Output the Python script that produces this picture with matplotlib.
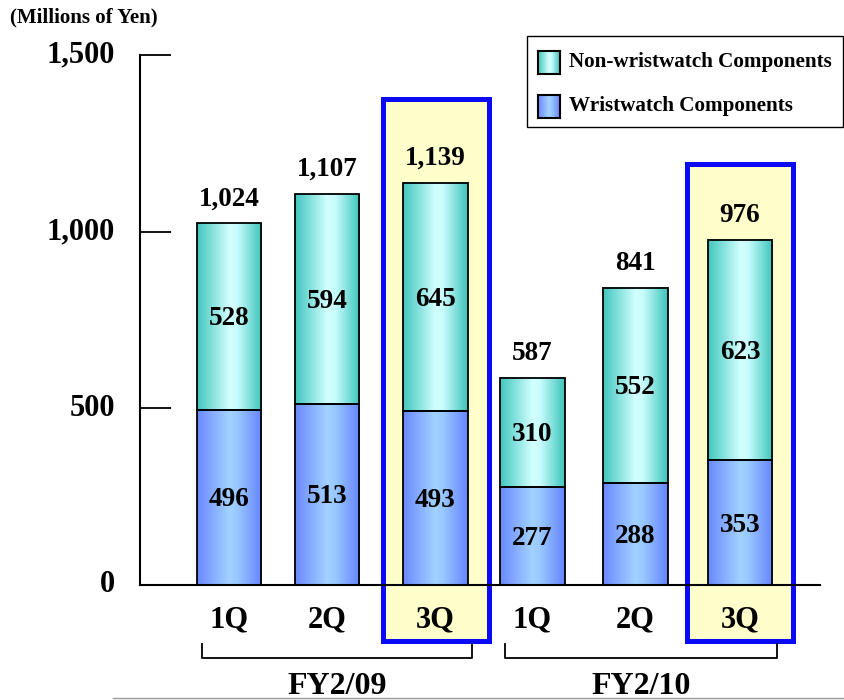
import numpy as np
import matplotlib
matplotlib.use("Agg")
import matplotlib.pyplot as plt
from matplotlib.patches import Rectangle
from matplotlib.lines import Line2D
from matplotlib.colors import LinearSegmentedColormap
from matplotlib.transforms import ScaledTranslation

# ---- data -------------------------------------------------------------
quarters = ["1Q", "2Q", "3Q", "1Q", "2Q", "3Q"]
fiscal_years = ["FY2/09", "FY2/10"]
year_groups = [[0, 1, 2], [3, 4, 5]]
wristwatch = [496, 513, 493, 277, 288, 353]
non_wristwatch = [528, 594, 645, 310, 552, 623]
totals = [1024, 1107, 1139, 587, 841, 976]
highlighted = [2, 5]
series_names = ["Non-wristwatch Components", "Wristwatch Components"]
y_ticks = [0, 500, 1000, 1500]
y_ticklabels = ["0", "500", "1,000", "1,500"]
unit_label = "(Millions of Yen)"

# ---- layout (pixel units of an 844x700 canvas) -------------------------
W, H = 844, 700
AX_L, AX_R, AX_T, AX_B = 140, 820, 55, 585
bar_centers = [229, 327, 435.5, 532.5, 635.5, 740]
bar_width = 64.5
PX = 1500 / (AX_B - AX_T)          # data units per pixel vertically

FONT = "Liberation Serif"
plt.rcParams["font.family"] = FONT
plt.rcParams["font.weight"] = "bold"

cyan_cmap = LinearSegmentedColormap.from_list(
    "cyan_bar", [(0, "#40C6BE"), (0.5, "#D2FFFF"), (0.62, "#C8FCFC"), (1, "#3CC4BC")])
blue_cmap = LinearSegmentedColormap.from_list(
    "blue_bar", [(0, "#6A88FF"), (0.5, "#A2D2FF"), (0.62, "#98C8FF"), (1, "#6684FF")])
grad = np.linspace(0, 1, 256)[None, :]

fig = plt.figure(figsize=(W / 100, H / 100), dpi=100)
ax = fig.add_axes([AX_L / W, 1 - AX_B / H, (AX_R - AX_L) / W, (AX_B - AX_T) / H])
ax.patch.set_alpha(0)


def gradient_bar(x, bottom, height, cmap):
    ax.imshow(grad, cmap=cmap, extent=[x - bar_width / 2, x + bar_width / 2,
                                       bottom, bottom + height],
              aspect="auto", interpolation="bilinear", zorder=2)


# highlight frames behind the third-quarter bars
box_tops = {2: 1375, 5: 1191}
box_bottom = (AX_B - 641) * PX
for i in highlighted:
    ax.add_patch(Rectangle((bar_centers[i] - 53, box_bottom), 106,
                           box_tops[i] - box_bottom, facecolor="#FFFFCC",
                           edgecolor="#0A0AF5", linewidth=3.6,
                           clip_on=False, zorder=1))

# stacked bars with horizontal gradient shading
for i, x in enumerate(bar_centers):
    gradient_bar(x, 0, wristwatch[i], blue_cmap)
    gradient_bar(x, wristwatch[i], totals[i] - wristwatch[i], cyan_cmap)
ax.bar(bar_centers, wristwatch, width=bar_width, fill=False,
       edgecolor="black", linewidth=1.3, zorder=3)
ax.bar(bar_centers, [t - w for t, w in zip(totals, wristwatch)],
       bottom=wristwatch, width=bar_width, fill=False,
       edgecolor="black", linewidth=1.3, zorder=3)

# value labels
cap_half = 8.9 * PX
for i, x in enumerate(bar_centers):
    ax.text(x, wristwatch[i] / 2 - cap_half, f"{wristwatch[i]:,}",
            ha="center", va="baseline", fontsize=19.5, fontweight="bold", zorder=4)
    ax.text(x, (wristwatch[i] + totals[i]) / 2 - cap_half, f"{non_wristwatch[i]:,}",
            ha="center", va="baseline", fontsize=19.5, fontweight="bold", zorder=4)
    ax.text(x, totals[i] + 18 * PX, f"{totals[i]:,}",
            ha="center", va="baseline", fontsize=19.5, fontweight="bold", zorder=4)

# quarter labels
for i, x in enumerate(bar_centers):
    ax.text(x, (AX_B - 627) * PX, quarters[i], ha="center", va="baseline",
            fontsize=22, fontweight="bold", clip_on=False, zorder=4)

# fiscal-year brackets
br_top = (AX_B - 643.5) * PX
br_bot = (AX_B - 657.7) * PX
for name, grp in zip(fiscal_years, year_groups):
    x0 = bar_centers[grp[0]] - 27
    x1 = bar_centers[grp[-1]] + 37
    ax.add_line(Line2D([x0, x0, x1, x1], [br_top, br_bot, br_bot, br_top],
                       color="black", linewidth=1.3, clip_on=False))
    ax.text((x0 + x1) / 2, (AX_B - 694) * PX, name, ha="center", va="baseline",
            fontsize=23, fontweight="bold", clip_on=False)

# axes styling
ax.set_xlim(AX_L, AX_R)
ax.set_ylim(0, 1500)
for s in ["top", "right"]:
    ax.spines[s].set_visible(False)
for s in ["left", "bottom"]:
    ax.spines[s].set_linewidth(1.5)
    ax.spines[s].set_zorder(3.5)
ax.set_xticks([])
ax.set_yticks(y_ticks)
ax.set_yticklabels(y_ticklabels, fontsize=22, fontweight="bold")
ax.tick_params(axis="y", direction="in", length=22, width=1.3, pad=18)
lift = ScaledTranslation(0, 3.5 / 100, fig.dpi_scale_trans)
for lbl in ax.get_yticklabels():
    lbl.set_transform(lbl.get_transform() + lift)

# unit label
fig.text(10 / W, 1 - 17 / H, unit_label, ha="left", va="center",
         fontsize=15, fontweight="bold")

# legend
fig.add_artist(Rectangle((527 / W, 1 - 127 / H), (843 - 527) / W, (127 - 36) / H,
                         transform=fig.transFigure, facecolor="white",
                         edgecolor="black", linewidth=1.0, zorder=-1))
for name, cmap, yc in zip(series_names, [cyan_cmap, blue_cmap], [62, 106]):
    sw = fig.add_axes([538 / W, 1 - (yc + 11.5) / H, 22 / W, 23 / H])
    sw.set_zorder(2)
    sw.imshow(grad, cmap=cmap, aspect="auto", interpolation="bilinear")
    sw.set_xticks([])
    sw.set_yticks([])
    for sp in sw.spines.values():
        sp.set_linewidth(1.5)
    fig.text(569 / W, 1 - yc / H, name, ha="left", va="center",
             fontsize=15.2, fontweight="bold", zorder=3)

# thin rule along the bottom edge
fig.add_artist(Line2D([113 / W, 1], [1 - 698 / H, 1 - 698 / H],
                      transform=fig.transFigure, color="#9A9A9A", linewidth=1))

fig.savefig("out.png", dpi=100)
